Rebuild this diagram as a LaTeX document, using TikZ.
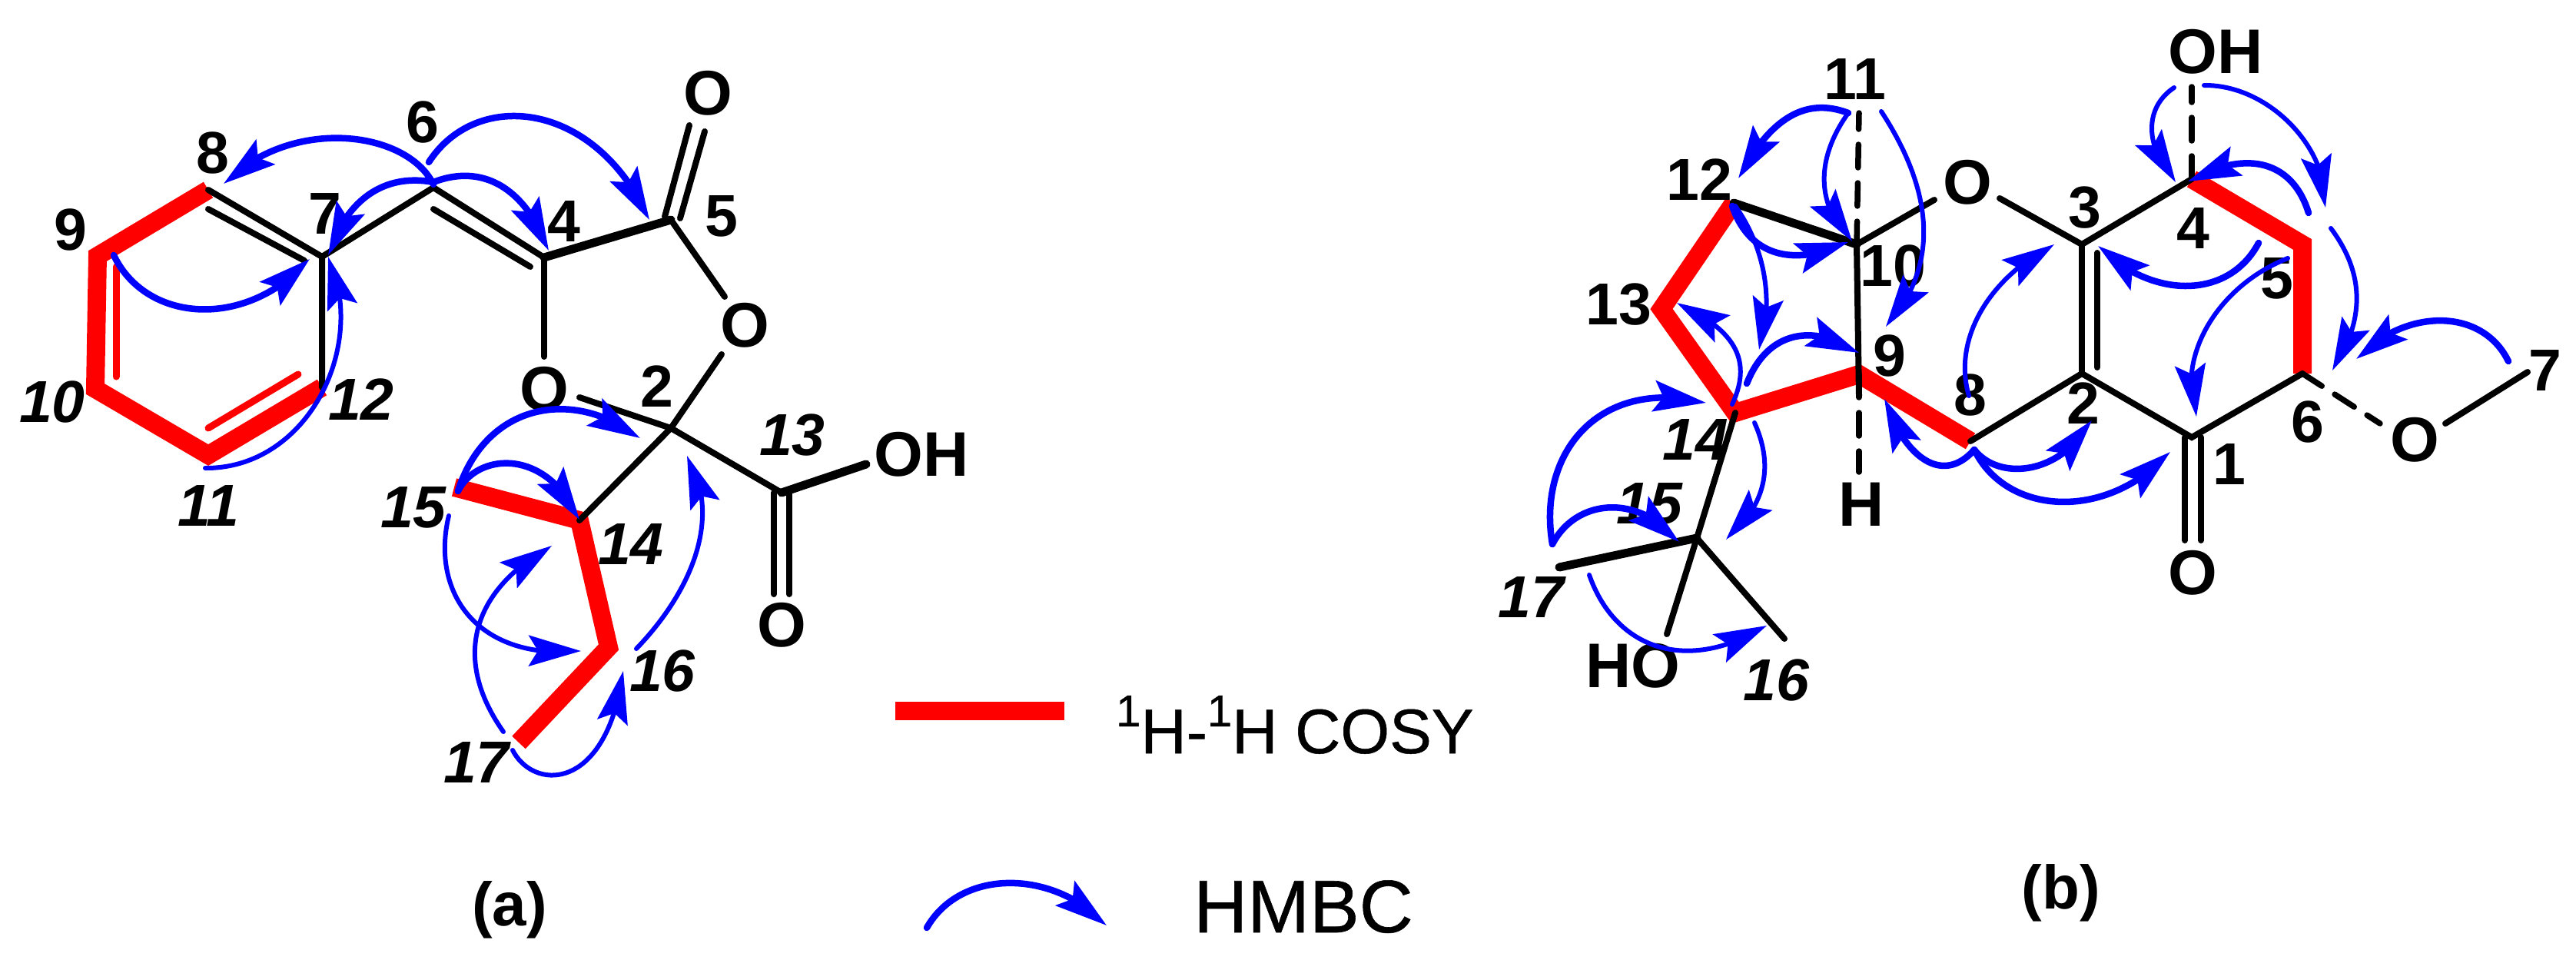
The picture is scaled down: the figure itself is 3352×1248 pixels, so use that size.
\documentclass[tikz,border=0pt]{standalone}
\usepackage{fontspec}
\setmainfont{Liberation Sans}
\newfontfamily\semil[FakeBold=0.6]{Liberation Sans}
\usetikzlibrary{arrows.meta,bending}
\definecolor{hblue}{RGB}{0,0,255}
\definecolor{hred}{RGB}{255,0,0}
\tikzset{
  bond/.style={draw=black,line width=8pt,line cap=round},
  bondb/.style={bond,line width=11pt},
  dbond/.style={bond,line width=7.5pt,dash pattern=on 30pt off 20pt,line cap=round},
  cosy/.style={draw=hred,line width=24pt,line join=miter,line cap=butt,miter limit=10},
  cosyin/.style={draw=hred,line width=9pt,line cap=round},
  hmbc/.style={draw=hblue,line width=8.5pt,line cap=round,-{Stealth[length=68pt,width=40pt,inset=12pt,flex]}},
  hmbct/.style={hmbc,line width=6pt},
  atomlab/.style={font=\fontsize{82}{82}\selectfont\bfseries,inner sep=0pt,text=black},
  numup/.style={font=\fontsize{77}{77}\selectfont\bfseries,inner sep=0pt,text=black},
  numit/.style={font=\fontsize{77}{77}\selectfont\bfseries\itshape,inner sep=0pt,text=black},
  panel/.style={font=\fontsize{80}{80}\selectfont\bfseries,inner sep=0pt,text=black},
}
\begin{document}
\begin{tikzpicture}[x=1pt,y=-1pt]
\useasboundingbox (0,0) rectangle (3352,1248);
% ---------- panel a coordinates
\coordinate (a8) at (271,247);
\coordinate (a9) at (127,333);
\coordinate (a10) at (124,506);
\coordinate (a11) at (271,592);
\coordinate (a12) at (419,504);
\coordinate (a7) at (419,334);
\coordinate (a6) at (564,244);
\coordinate (a4) at (708,335);
\coordinate (a5) at (873,286);
\coordinate (a2) at (873,557);
\coordinate (a13) at (1017,641);
\coordinate (a14) at (754,677);
\coordinate (a15) at (591,634);
\coordinate (a16) at (792,842);
\coordinate (a17) at (675,966);
\coordinate (a8i) at (271,272);
\coordinate (a7i) at (396,339);
\coordinate (a6i) at (564,272);
\coordinate (a4i) at (690,347);
\coordinate (a9i) at (151,347);
\coordinate (a10i) at (151,490);
\coordinate (a11i) at (271,557);
\coordinate (a12i) at (388,487);
\coordinate (ao1a) at (897,163);
\coordinate (ao1b) at (865,282);
\coordinate (ao2a) at (917,171);
\coordinate (ao2b) at (885,284);
\coordinate (aor1) at (943,386);
\coordinate (aor2) at (939,461);
\coordinate (aol1) at (708,464);
\coordinate (aol2) at (754,517);
\coordinate (aoh) at (1127,604);
\coordinate (ac1a) at (1007,641);
\coordinate (ac1b) at (1007,773);
\coordinate (ac2a) at (1027,641);
\coordinate (ac2b) at (1027,773);
% red
\draw[cosy] (a8) -- (a9) -- (a10) -- (a11) -- (a12);
\draw[cosy] (a15) -- (a14) -- (a16) -- (a17);
\draw[cosyin] (a9i) -- (a10i);
\draw[cosyin] (a11i) -- (a12i);
% black
\draw[bond] (a8) -- (a7) -- (a12);
\draw[bond] (a8i) -- (a7i);
\draw[bond] (a7) -- (a6) -- (a4);
\draw[bond] (a6i) -- (a4i);
\draw[bondb] (a4) -- (a5);
\draw[bond] (ao1a) -- (ao1b);
\draw[bond] (ao2a) -- (ao2b);
\draw[bond] (a5) -- (aor1);
\draw[bond] (aor2) -- (a2);
\draw[bond] (a4) -- (aol1);
\draw[bond] (aol2) -- (a2);
\draw[bond] (a2) -- (a14);
\draw[bond] (a2) -- (a13);
\draw[bondb] (a13) -- (aoh);
\draw[bond] (ac1a) -- (ac1b);
\draw[bond] (ac2a) -- (ac2b);
% labels a
\node[atomlab] (aO1) at (921,121) {O};
\node[atomlab] (aO2) at (969,423) {O};
\node[atomlab] (aO3) at (708,506) {O};
\node[atomlab] (aOH) at (1199,591) {OH};
\node[atomlab] (aO4) at (1017,813) {O};
\node[numup] (an6) at (550,159) {6};
\node[numup] (an8) at (277,199) {8};
\node[numup] (an9) at (92,299) {9};
\node[numup] (an7) at (423,278) {7};
\node[numup] (an4) at (734,288) {4};
\node[numup] (an5) at (939,281) {5};
\node[numup] (an2) at (855,503) {2};
\node[numit] (an10) at (68,523) {10};
\node[numit] (an11) at (271,658) {11};
\node[numit] (an12) at (470,520) {12};
\node[numit] (an13) at (1031,566) {13};
\node[numit] (an14) at (821,708) {14};
\node[numit] (an15) at (538,660) {15};
\node[numit] (an16) at (862,873) {16};
\node[numit] (an17) at (620,992) {17};
% blue a
\draw[hmbc] (564,240) .. controls (530,170) and (380,150) .. (291,239);
\draw[hmbc] (558,211) .. controls (620,115) and (775,130) .. (845,286);
\draw[hmbc] (564,237) .. controls (500,225) and (450,260) .. (427,332);
\draw[hmbc] (564,237) .. controls (620,215) and (680,235) .. (714,326);
\draw[hmbc] (148,332) .. controls (190,420) and (320,430) .. (403,337);
\draw[hmbct] (267,609) .. controls (400,610) and (480,450) .. (427,334);
\draw[hmbc] (596,639) .. controls (630,530) and (740,500) .. (833,570);
\draw[hmbc] (596,639) .. controls (620,590) and (710,580) .. (754,676);
\draw[hmbct] (584,671) .. controls (560,770) and (620,860) .. (756,847);
\draw[hmbct] (655,952) .. controls (590,860) and (610,770) .. (718,710);
\draw[hmbct] (667,976) .. controls (695,1030) and (790,1030) .. (811,873);
\draw[hmbct] (828,844) .. controls (890,780) and (945,680) .. (894,593);
% ---------- panel b coordinates
\coordinate (b10) at (2416,318);
\coordinate (b12) at (2256,264);
\coordinate (b13) at (2162,402);
\coordinate (b14) at (2258,537);
\coordinate (b9) at (2419,487);
\coordinate (b8) at (2564,574);
\coordinate (b2) at (2709,486);
\coordinate (b3) at (2709,318);
\coordinate (b4) at (2852,233);
\coordinate (b5) at (2996,318);
\coordinate (b6) at (2996,486);
\coordinate (b1) at (2852,569);
\coordinate (b15) at (2208,700);
\coordinate (bm17) at (2029,738);
\coordinate (bho) at (2169,825);
\coordinate (bm16) at (2322,831);
\coordinate (bo1) at (2517,260);
\coordinate (bo2) at (2602,258);
\coordinate (bd11) at (2419,147);
\coordinate (bdoh) at (2852,113);
\coordinate (bdh) at (2419,614);
\coordinate (bh9) at (2419,515);
\coordinate (bdo6) at (3097,551);
\coordinate (bo7) at (3182,551);
\coordinate (bm7) at (3289,484);
\coordinate (bi3) at (2729,329);
\coordinate (bi2) at (2729,478);
\coordinate (bc1a) at (2843,569);
\coordinate (bc1b) at (2843,703);
\coordinate (bc2a) at (2864,569);
\coordinate (bc2b) at (2864,703);
% red
\draw[cosy] (b12) -- (b13) -- (b14) -- (b9) -- (b8);
\draw[cosy] (b4) -- (b5) -- (b6);
% black
\draw[bondb] (b12) -- (b10);
\draw[bond] (b10) -- (bo1);
\draw[bond] (b10) -- (bh9);
\draw[dbond] (b10) -- (bd11);
\draw[dbond] (b9) -- (bdh);
\draw[bond] (bo2) -- (b3) -- (b4);
\draw[bond] (b3) -- (b2);
\draw[bond] (bi3) -- (bi2);
\draw[bond] (b8) -- (b2) -- (b1) -- (b6);
\draw[bond] (bc1a) -- (bc1b);
\draw[bond] (bc2a) -- (bc2b);
\draw[dbond] (b4) -- (bdoh);
\draw[dbond] (b6) -- (bdo6);
\draw[bond] (bo7) -- (bm7);
\draw[bond] (b14) -- (b15);
\draw[bondb] (b15) -- (bm17);
\draw[bond] (b15) -- (bho);
\draw[bond] (b15) -- (bm16);
% labels b
\node[atomlab] (bOr) at (2560,237) {O};
\node[atomlab] (bOH) at (2883,67) {OH};
\node[atomlab] (bOm) at (3142,572) {O};
\node[atomlab] (bOc) at (2853,745) {O};
\node[atomlab] (bH) at (2422,656) {H};
\node[atomlab] (bHO) at (2125,866) {HO};
\node[numup] (bn11) at (2414,103) {11};
\node[numup] (bn12) at (2211,234) {12};
\node[numup] (bn13) at (2106,396) {13};
\node[numup] (bn10) at (2463,346) {10};
\node[numup] (bn3) at (2713,270) {3};
\node[numup] (bn4) at (2854,297) {4};
\node[numup] (bn5) at (2963,362) {5};
\node[numup] (bn7) at (3312,482) {7};
\node[numup] (bn9) at (2459,463) {9};
\node[numup] (bn8) at (2564,514) {8};
\node[numup] (bn2) at (2711,525) {2};
\node[numup] (bn6) at (3003,549) {6};
\node[numup] (bn1) at (2901,604) {1};
\node[numit] (bn14) at (2206,572) {14};
\node[numit] (bn15) at (2146,655) {15};
\node[numit] (bn16) at (2311,885) {16};
\node[numit] (bn17) at (1992,777) {17};
% blue b
\draw[hmbc] (2405,147) .. controls (2360,130) and (2310,140) .. (2262,232);
\draw[hmbct] (2405,147) .. controls (2360,210) and (2365,270) .. (2410,314);
\draw[hmbct] (2448,145) .. controls (2510,240) and (2530,340) .. (2454,425);
\draw[hmbc] (2254,268) .. controls (2275,330) and (2330,350) .. (2405,315);
\draw[hmbct] (2258,268) .. controls (2295,320) and (2310,390) .. (2289,455);
\draw[hmbct] (2254,526) .. controls (2280,470) and (2260,430) .. (2182,394);
\draw[hmbc] (2273,499) .. controls (2300,430) and (2360,420) .. (2419,459);
\draw[hmbc] (2020,708) .. controls (2000,590) and (2080,490) .. (2220,524);
\draw[hmbc] (2020,708) .. controls (2050,650) and (2130,640) .. (2185,705);
\draw[hmbct] (2283,550) .. controls (2310,610) and (2295,660) .. (2246,702);
\draw[hmbct] (2068,748) .. controls (2100,840) and (2190,880) .. (2299,814);
\draw[hmbc] (2569,585) .. controls (2530,630) and (2480,600) .. (2452,519);
\draw[hmbc] (2569,585) .. controls (2600,625) and (2680,620) .. (2722,547);
\draw[hmbc] (2569,585) .. controls (2610,670) and (2740,680) .. (2824,588);
\draw[hmbct] (2562,515) .. controls (2540,440) and (2590,360) .. (2673,318);
\draw[hmbc] (2939,316) .. controls (2900,390) and (2800,390) .. (2730,320);
\draw[hmbct] (2977,336) .. controls (2890,370) and (2830,460) .. (2858,542);
\draw[hmbct] (2829,114) .. controls (2790,140) and (2790,190) .. (2831,237);
\draw[hmbct] (2868,111) .. controls (2950,110) and (3030,190) .. (3026,270);
\draw[hmbc] (3004,277) .. controls (2985,215) and (2930,190) .. (2847,236);
\draw[hmbct] (3033,297) .. controls (3080,360) and (3075,420) .. (3035,482);
\draw[hmbc] (3264,470) .. controls (3230,400) and (3130,400) .. (3066,467);
% ---------- legend and panel captions
\coordinate (lr1) at (1165,925);
\coordinate (lr2) at (1385,925);
\draw[cosy] (lr1) -- (lr2);
\node[font=\semil\fontsize{82}{82}\selectfont,inner sep=0pt,anchor=base west] (lcosy) at (1452,980) {\raisebox{35pt}{\fontsize{58}{58}\selectfont 1}H-\raisebox{35pt}{\fontsize{58}{58}\selectfont 1}H COSY};
\draw[hmbc] (1206,1207) .. controls (1250,1130) and (1370,1130) .. (1440,1204);
\node[font=\semil\fontsize{97}{97}\selectfont,inner sep=0pt,anchor=base west] (lhmbc) at (1553,1213) {HMBC};
\node[panel] (pa) at (663,1184) {(a)};
\node[panel] (pb) at (2682,1162) {(b)};
\end{tikzpicture}
\end{document}
